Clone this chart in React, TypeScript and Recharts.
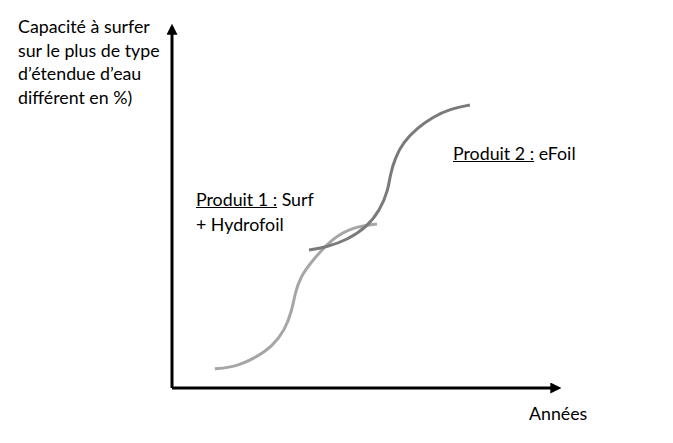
import { ComposedChart, Line, XAxis, YAxis, ReferenceLine } from "recharts"

// Courbe en S du produit 1 (surf + hydrofoil)
const produit1X = [11.1, 16.3, 21.5, 25.9, 29.3, 31.1, 31.9, 33.2, 36.5, 41.7, 46.9, 53.1]
const produit1Y = [5.3, 5.8, 8.3, 11.4, 16.1, 21.6, 26.3, 30.7, 35.5, 41.6, 44.6, 45.4]

// Courbe en S du produit 2 (eFoil)
const produit2X = [35.5, 40.2, 45.3, 50.5, 53.9, 56.0, 56.5, 57.8, 59.8, 63.5, 67.6, 72.0, 77.2]
const produit2Y = [38.2, 39.1, 41.0, 44.6, 49.3, 54.8, 59.0, 63.7, 67.9, 72.0, 75.1, 77.3, 78.4]

const yLabelLines = ["Capacité à surfer", "sur le plus de type", "d’étendue d’eau", "différent en %)"]

const toPoints = (xs: number[], ys: number[]) => xs.map((x, i) => ({ x, y: ys[i] }))

const font = "Lato, 'Open Sans', sans-serif"

export default function App() {
  const p1 = toPoints(produit1X, produit1Y)
  const p2 = toPoints(produit2X, produit2Y)

  return (
    <div style={{ position: "fixed", left: 0, top: 0, width: 673, height: 443, background: "#fff", fontFamily: font, color: "#000" }}>
      <ComposedChart width={673} height={443} margin={{ top: 27, right: 115, left: 172, bottom: 55 }}>
        <defs>
          <marker id="arrow" viewBox="0 0 10 10" refX="7" refY="5" markerWidth="11" markerHeight="11" markerUnits="userSpaceOnUse" orient="auto">
            <path d="M0,0 L10,5 L0,10 z" fill="#000" />
          </marker>
        </defs>
        <XAxis type="number" dataKey="x" domain={[0, 100]} hide />
        <YAxis type="number" dataKey="y" domain={[0, 100]} hide />
        {/* axes fléchés */}
        <ReferenceLine
          segment={[{ x: 0, y: 0 }, { x: 100, y: 0 }]}
          stroke="#000"
          strokeWidth={3}
          markerEnd="url(#arrow)"
          ifOverflow="visible"
        />
        <ReferenceLine
          segment={[{ x: 0, y: 0 }, { x: 0, y: 100 }]}
          stroke="#000"
          strokeWidth={3}
          markerEnd="url(#arrow)"
          ifOverflow="visible"
        />
        <Line data={p1} dataKey="y" type="basis" stroke="#a6a6a6" strokeWidth={3} dot={false} isAnimationActive={false} />
        <Line data={p2} dataKey="y" type="basis" stroke="#7a7a7a" strokeWidth={3} dot={false} isAnimationActive={false} />
      </ComposedChart>

      <div style={{ position: "absolute", left: 18, top: 15, fontSize: 17.8, lineHeight: "23.5px", whiteSpace: "nowrap" }}>
        {yLabelLines.map((l) => (
          <div key={l}>{l}</div>
        ))}
      </div>

      <div style={{ position: "absolute", left: 196, top: 187, fontSize: 17.8, lineHeight: "25px", whiteSpace: "nowrap" }}>
        <div>
          <span style={{ textDecoration: "underline" }}>Produit 1 :</span> Surf
        </div>
        <div>+ Hydrofoil</div>
      </div>

      <div style={{ position: "absolute", left: 453, top: 141, fontSize: 17.8, lineHeight: "24px", whiteSpace: "nowrap" }}>
        <span style={{ textDecoration: "underline" }}>Produit 2 :</span> eFoil
      </div>

      <div style={{ position: "absolute", left: 529, top: 401, fontSize: 17.8, lineHeight: "24px", whiteSpace: "nowrap" }}>Années</div>
    </div>
  )
}
